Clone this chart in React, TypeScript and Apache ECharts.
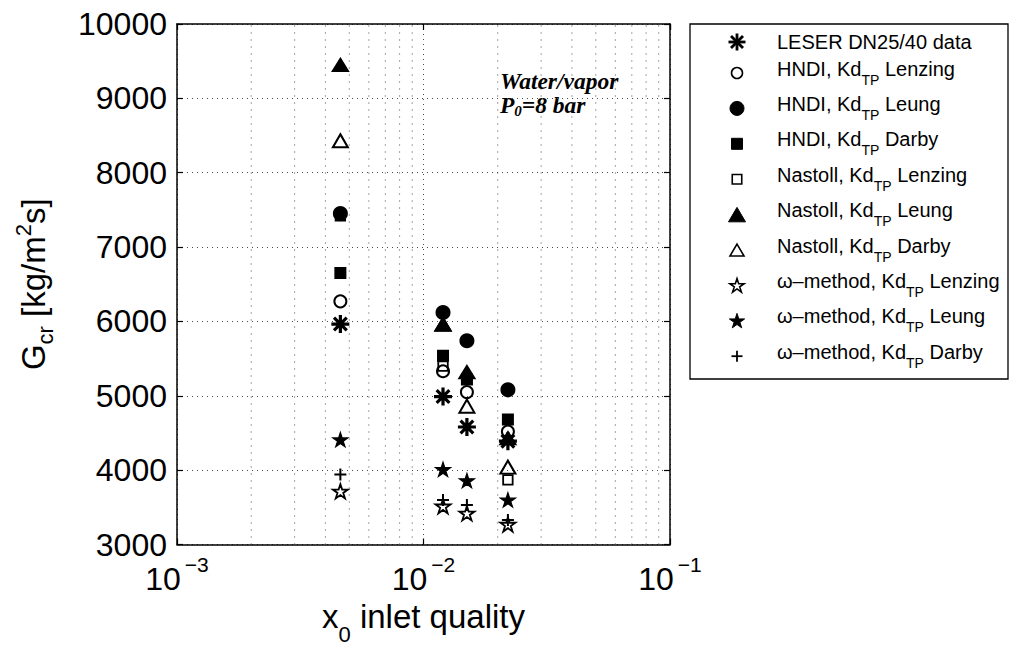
import React, { useEffect, useRef } from "react";
import * as echarts from "echarts";

// ---------------- data ----------------
const xQuality = [0.0046, 0.012, 0.015, 0.022];
const leser = [5965, 4990, 4580, 4390];
const hndiLenzing = [6270, 5330, 5050, 4520];
const hndiLeung = [7450, 6120, 5740, 5080];
const hndiDarby = [6650, 5540, 5220, 4680];
const nastollLenzing = [7420, 5400, 5220, 3870];
const nastollLeung = [9450, 5960, 5320, 4430];
const nastollDarby = [8430, 5960, 4860, 4040];
const omegaLenzing = [3716, 3515, 3420, 3270];
const omegaLeung = [4410, 4010, 3860, 3600];
const omegaDarby = [3940, 3600, 3530, 3330];

const seriesValues = [
  leser, hndiLenzing, hndiLeung, hndiDarby, nastollLenzing,
  nastollLeung, nastollDarby, omegaLenzing, omegaLeung, omegaDarby,
];
const legendMain = [
  "LESER DN25/40 data", "HNDI, Kd", "HNDI, Kd", "HNDI, Kd", "Nastoll, Kd",
  "Nastoll, Kd", "Nastoll, Kd", "\u03c9\u2013method, Kd", "\u03c9\u2013method, Kd", "\u03c9\u2013method, Kd",
];
const legendSub = ["", "TP", "TP", "TP", "TP", "TP", "TP", "TP", "TP", "TP"];
const legendTail = ["", " Lenzing", " Leung", " Darby", " Lenzing", " Leung", " Darby", " Lenzing", " Leung", " Darby"];

const xExtent = [0.001, 0.1];
const xDecades = [-3, -2];
const yExtent = [3000, 10000];
const yStep = 1000;
const minorMultipliers = [2, 3, 4, 5, 6, 7, 8, 9];

// ---------------- styling ----------------
const SANS = '"Liberation Sans", Arial, Helvetica, sans-serif';
const SERIF = '"Liberation Serif", "Times New Roman", serif';
const GRID_COLOR = "#4a4a4a";

function starD(): string {
  const pts: string[] = [];
  for (let i = 0; i < 10; i++) {
    const r = i % 2 === 0 ? 50 : 19.1;
    const a = -Math.PI / 2 + (i * Math.PI) / 5;
    pts.push(`${(r * Math.cos(a)).toFixed(2)},${(r * Math.sin(a)).toFixed(2)}`);
  }
  return "M" + pts.join("L") + "Z";
}
const STAR = "path://" + starD();
const ASTERISK = "path://M0,-50L0,50M-50,0L50,0M-35.36,-35.36L35.36,35.36M-35.36,35.36L35.36,-35.36";
const PLUS = "path://M0,-50L0,50M-50,0L50,0";

type Def = { kind: string; filled: boolean; size: number | number[]; lw: number; lg: number; lgLw: number };
const markerDefs: Def[] = [
  { kind: "asterisk", filled: false, size: 18, lw: 3.2, lg: 17, lgLw: 2.8 },
  { kind: "circle", filled: false, size: 12, lw: 2, lg: 11, lgLw: 1.6 },
  { kind: "circle", filled: true, size: 13, lw: 2, lg: 14, lgLw: 1 },
  { kind: "square", filled: true, size: 10, lw: 2, lg: 11, lgLw: 1 },
  { kind: "square", filled: false, size: 9.5, lw: 1.8, lg: 9.5, lgLw: 1.6 },
  { kind: "triangle", filled: true, size: [16, 13], lw: 1.5, lg: 17, lgLw: 1 },
  { kind: "triangle", filled: false, size: [15, 13], lw: 2, lg: 14, lgLw: 1.6 },
  { kind: "star", filled: false, size: 15, lw: 1.8, lg: 15, lgLw: 1.6 },
  { kind: "star", filled: true, size: 15, lw: 1.2, lg: 16, lgLw: 1 },
  { kind: "plus", filled: false, size: 12, lw: 2, lg: 11, lgLw: 1.8 },
];

function symbolFor(kind: string): string {
  if (kind === "asterisk") return ASTERISK;
  if (kind === "circle") return "circle";
  if (kind === "square") return "rect";
  if (kind === "triangle") return "triangle";
  if (kind === "star") return STAR;
  return PLUS;
}

function legendMarker(def: Def, cx: number, cy: number): any[] {
  const fill = def.filled ? "#000" : "none";
  const st = { fill, stroke: "#000", lineWidth: def.lgLw };
  const h = def.lg / 2;
  const line = (x1: number, y1: number, x2: number, y2: number) => ({
    type: "line", silent: true,
    shape: { x1, y1, x2, y2 },
    style: { stroke: "#000", lineWidth: def.lgLw },
  });
  switch (def.kind) {
    case "asterisk": {
      const d = h * 0.7071;
      return [line(cx, cy - h, cx, cy + h), line(cx - h, cy, cx + h, cy), line(cx - d, cy - d, cx + d, cy + d), line(cx - d, cy + d, cx + d, cy - d)];
    }
    case "circle":
      return [{ type: "circle", silent: true, shape: { cx, cy, r: h }, style: st }];
    case "square":
      return [{ type: "rect", silent: true, shape: { x: cx - h, y: cy - h, width: 2 * h, height: 2 * h }, style: st }];
    case "triangle": {
      const th = def.lg * 0.85;
      return [{ type: "polygon", silent: true, shape: { points: [[cx, cy - th / 2], [cx + h, cy + th / 2], [cx - h, cy + th / 2]] }, style: st }];
    }
    case "star": {
      const pts: number[][] = [];
      for (let i = 0; i < 10; i++) {
        const r = i % 2 === 0 ? h : h * 0.382;
        const a = -Math.PI / 2 + (i * Math.PI) / 5;
        pts.push([cx + r * Math.cos(a), cy + 0.6 + r * Math.sin(a)]);
      }
      return [{ type: "polygon", silent: true, shape: { points: pts }, style: st }];
    }
    default:
      return [line(cx, cy - h, cx, cy + h), line(cx - h, cy, cx + h, cy)];
  }
}

function buildOption(): any {
  const seriesNames = legendMain.map((m, i) => m + legendSub[i] + legendTail[i]);

  // minor (2..9) vertical grid lines of the log axis
  const minorX: number[] = [];
  xDecades.forEach((e) => minorMultipliers.forEach((k) => minorX.push(k * Math.pow(10, e))));
  const minorGridSeries = minorX.map((v) => ({
    type: "line",
    name: "minor-grid",
    xAxisIndex: 0,
    yAxisIndex: 0,
    data: [[v, yExtent[0]], [v, yExtent[1]]],
    symbol: "none",
    silent: true,
    z: 1,
    lineStyle: { color: GRID_COLOR, width: 1, type: [1, 6] },
    emphasis: { disabled: true },
  }));

  const scatterSeries = seriesValues.map((vals, i) => {
    const def = markerDefs[i];
    return {
      type: "scatter",
      name: seriesNames[i],
      xAxisIndex: 0,
      yAxisIndex: 0,
      data: xQuality.map((x, j) => [x, vals[j]]),
      symbol: symbolFor(def.kind),
      symbolSize: def.size,
      symbolKeepAspect: true,
      silent: true,
      z: 3,
      itemStyle: {
        color: def.filled ? "#000" : "none",
        borderColor: "#000",
        borderWidth: def.lw,
        opacity: 1,
      },
      emphasis: { disabled: true },
    };
  });

  // legend (drawn as graphic)
  const lgLeft = 690, lgTop = 24, lgW = 318, lgH = 355;
  const markerX = 737, textX = 777;
  const legendEls: any[] = [
    {
      type: "rect", silent: true,
      shape: { x: lgLeft, y: lgTop, width: lgW, height: lgH },
      style: { fill: "#fff", stroke: "#000", lineWidth: 1.3 },
    },
  ];
  for (let i = 0; i < legendMain.length; i++) {
    const rowY = i === 0 ? 42 : 73 + (i - 1) * 35.4;
    legendEls.push(...legendMarker(markerDefs[i], markerX, rowY));
    const hasSub = legendSub[i] !== "";
    const txt = hasSub
      ? `{m|${legendMain[i]}}{s|${legendSub[i]}}{m|${legendTail[i]}}`
      : `{m|${legendMain[i]}}`;
    legendEls.push({
      type: "text", silent: true,
      x: textX, y: hasSub ? rowY - 4.5 : rowY,
      style: {
        text: txt,
        fill: "#000",
        align: "left", verticalAlign: "middle",
        textAlign: "left", textVerticalAlign: "middle",
        rich: {
          m: { fontSize: 20, fontFamily: SANS, fill: "#000", lineHeight: 20 },
          s: { fontSize: 14, fontFamily: SANS, fill: "#000", lineHeight: 14, padding: [22, 0, 0, 0] },
        },
      },
    });
  }

  const annot: any[] = [
    {
      type: "text", silent: true, x: 500, y: 81,
      style: {
        text: "Water/vapor", fill: "#000",
        fontSize: 23.5, fontFamily: SERIF, fontWeight: "bold", fontStyle: "italic",
        align: "left", verticalAlign: "middle", textAlign: "left", textVerticalAlign: "middle",
      },
    },
    {
      type: "text", silent: true, x: 500, y: 105,
      style: {
        text: "{m|P}{s|0}{m|=8 bar}", fill: "#000",
        align: "left", verticalAlign: "middle", textAlign: "left", textVerticalAlign: "middle",
        rich: {
          m: { fontSize: 23.5, fontFamily: SERIF, fontWeight: "bold", fontStyle: "italic", fill: "#000", lineHeight: 23 },
          s: { fontSize: 15, fontFamily: SERIF, fontWeight: "bold", fontStyle: "italic", fill: "#000", lineHeight: 15, padding: [12, 0, 0, 0] },
        },
      },
    },
  ];

  const axisLineStyle = { show: true, lineStyle: { color: "#000", width: 1.5 } };
  const tickStyle = { show: true, inside: true, length: 6, lineStyle: { color: "#000", width: 1.2 } };

  return {
    animation: false,
    backgroundColor: "#fff",
    textStyle: { fontFamily: SANS },
    grid: { left: 177, right: 344, top: 24, bottom: 101.5, containLabel: false, outerBoundsMode: "none" },
    xAxis: [
      {
        type: "log", logBase: 10, position: "bottom",
        min: xExtent[0], max: xExtent[1],
        axisLine: axisLineStyle,
        axisTick: tickStyle,
        splitLine: { show: true, lineStyle: { color: GRID_COLOR, width: 1, type: [1, 4] } },
        axisLabel: {
          show: true, margin: 18, color: "#000", fontSize: 32, fontFamily: SANS,
          formatter: (v: number) => {
            const e = Math.round(Math.log10(v));
            return `{b|10}{e|${e < 0 ? "\u2212" : ""}${Math.abs(e)}}`;
          },
          rich: {
            b: { fontSize: 32, fontFamily: SANS, color: "#000", lineHeight: 32 },
            e: { fontSize: 21, fontFamily: SANS, color: "#000", lineHeight: 21, padding: [0, 0, 28, 4] },
          },
        },
        name: "{m|x}{s|0}{m| inlet quality}",
        nameLocation: "middle",
        nameMoveOverlap: false,
        nameGap: 55,
        nameTextStyle: {
          color: "#000", fontSize: 33, fontFamily: SANS,
          rich: {
            m: { fontSize: 33, fontFamily: SANS, color: "#000", lineHeight: 33 },
            s: { fontSize: 22, fontFamily: SANS, color: "#000", lineHeight: 22, padding: [36, 0, 0, 0] },
          },
        },
      },
      {
        type: "log", logBase: 10, position: "top",
        min: xExtent[0], max: xExtent[1],
        axisLine: axisLineStyle,
        axisTick: tickStyle,
        splitLine: { show: false },
        axisLabel: { show: false },
      },
    ],
    yAxis: [
      {
        type: "value", position: "left",
        min: yExtent[0], max: yExtent[1], interval: yStep,
        axisLine: axisLineStyle,
        axisTick: tickStyle,
        splitLine: { show: true, lineStyle: { color: GRID_COLOR, width: 1, type: [1, 4] } },
        axisLabel: {
          show: true, margin: 10, color: "#000", fontSize: 32, fontFamily: SANS,
          formatter: (v: number) => String(v),
        },
        name: "{m|G}{s|cr}{m| [kg/m}{p|2}{m|s]}",
        nameLocation: "middle",
        nameGap: 127,
        nameTextStyle: {
          color: "#000", fontSize: 33, fontFamily: SANS,
          rich: {
            m: { fontSize: 33, fontFamily: SANS, color: "#000", lineHeight: 33 },
            s: { fontSize: 22, fontFamily: SANS, color: "#000", lineHeight: 22, padding: [24, 0, 0, 0] },
            p: { fontSize: 22, fontFamily: SANS, color: "#000", lineHeight: 22, padding: [0, 0, 20, 0] },
          },
        },
      },
      {
        type: "value", position: "right",
        min: yExtent[0], max: yExtent[1], interval: yStep,
        axisLine: axisLineStyle,
        axisTick: tickStyle,
        splitLine: { show: false },
        axisLabel: { show: false },
      },
    ],
    series: [...minorGridSeries, ...scatterSeries],
    graphic: { elements: [...annot, ...legendEls] },
  };
}

export default function App() {
  const ref = useRef<HTMLDivElement | null>(null);
  useEffect(() => {
    if (!ref.current) return;
    const chart = echarts.init(ref.current, undefined, { renderer: "svg" });
    chart.setOption(buildOption());
    return () => chart.dispose();
  }, []);
  return (
    <div
      ref={ref}
      style={{ position: "fixed", left: 0, top: 0, width: 1014, height: 646, background: "#fff" }}
    />
  );
}
